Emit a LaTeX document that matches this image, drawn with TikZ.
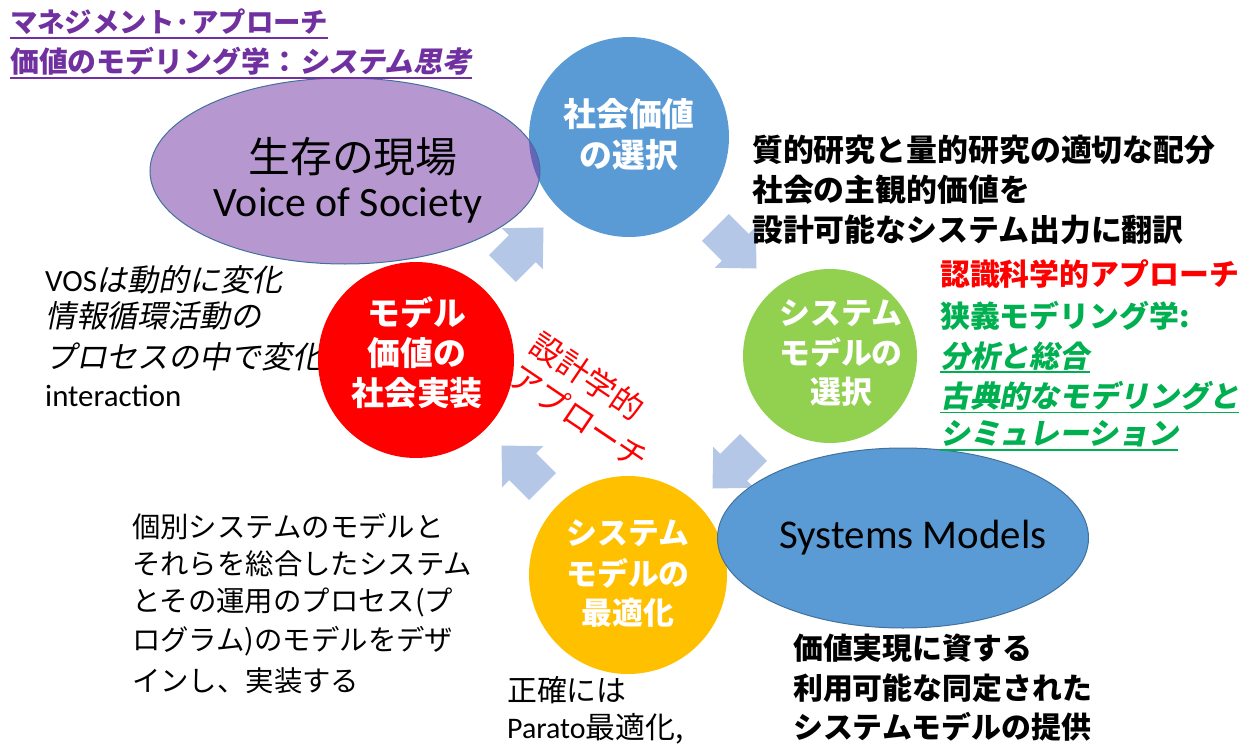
\documentclass[tikz,border=0pt]{standalone}
\usepackage{fontspec}
\usetikzlibrary{shapes.geometric}
\newfontfamily\jp{Noto Sans CJK JP}
\newfontfamily\jpit{Noto Sans CJK JP}[FakeSlant=0.2]
\newfontfamily\lat{Carlito}
\definecolor{cblue}{HTML}{5B9BD5}
\definecolor{cgreen}{HTML}{92D050}
\definecolor{cyellow}{HTML}{FFC000}
\definecolor{cred}{HTML}{FF0000}
\definecolor{carrow}{HTML}{B4C7E7}
\definecolor{cpurple}{HTML}{7030A0}
\definecolor{cgtext}{HTML}{00B050}
\definecolor{cedge}{HTML}{41719C}
\newcommand{\fsz}[1]{\fontsize{#1}{#1}\selectfont}
\newcommand{\blockarrow}[2]{\fill[carrow, shift={#1}, rotate=#2] (-29,-19) -- (-1,-19) -- (-1,-29) -- (29,0) -- (-1,29) -- (-1,19) -- (-29,19) -- cycle;}
\tikzset{
  disc/.style={circle, inner sep=0pt, minimum size=#1},
  lt/.style={inner sep=0pt, anchor=west},
  ct/.style={inner sep=0pt, anchor=center},
  wlab/.style={ct, text=white, font=\jp\bfseries\fsz{#1}},
  blk/.style={lt, font=\jp\bfseries\fsz{31}},
  brb/.style={lt, font=\jp\bfseries\fsz{30}},
  grn/.style={lt, text=cgtext, font=\jp\bfseries\fsz{30}},
  grni/.style={lt, text=cgtext, font=\jpit\bfseries\fsz{30}},
  vosl/.style={lt, font=\jpit\fsz{31}},
  bl/.style={lt, font=\jp\fsz{28.5}},
  ttl/.style={lt, text=cpurple, font=\jp\bfseries\fsz{#1}},
  gul/.style={draw=cgtext, line width=1.6bp},
  pul/.style={draw=cpurple, line width=1.6bp},
  oval/.style={ellipse, inner sep=0pt, draw=cedge, line width=1bp},
}
\begin{document}
\begin{tikzpicture}[x=1bp,y=-1bp]
\useasboundingbox (0,0) rectangle (1258,748);

% block arrows
\blockarrow{(523,248)}{45}
\blockarrow{(736,248)}{-45}
\blockarrow{(733,468)}{-135}
\blockarrow{(522,466)}{135}

% left text (partly hidden by red disc)
\node[vosl] (v1) at (45,280) {{\lat VOS}は動的に変化};
\node[vosl] (v2) at (45,316) {情報循環活動の};
\node[vosl] (v3) at (45,357) {プロセスの中で変化：};
\node[lt, font=\lat\fsz{31}] (v4) at (45,396) {interaction};

% discs
\node[disc=200bp, fill=cblue] (sv) at (629,137) {};
\node[disc=196bp, fill=cred] (im) at (416,360) {};
\node[disc=174bp, fill=cgreen] (sel) at (830,356) {};
\node[disc=198bp, fill=cyellow] (opt) at (628,575) {};

% ellipses
\node[oval, fill=cpurple, fill opacity=0.5, minimum width=390bp, minimum height=186bp] (vos) at (345,171) {};
\node[oval, fill=cblue, minimum width=371bp, minimum height=180bp] (sm) at (903,538) {};

% ellipse texts
\node[ct, font=\jp\fsz{42}] (vt1) at (353,157) {生存の現場};
\node[ct, font=\lat\fsz{42}] (vt2) at (348,205) {Voice of Society};
\node[ct, font=\lat\fsz{41}] (smt) at (913,538) {Systems Models};

% disc labels
\node[wlab=33] (s1) at (629,114) {社会価値};
\node[wlab=33] (s2) at (629,155) {の選択};
\node[wlab=33] (r1) at (417,313) {モデル};
\node[wlab=33] (r2) at (417,353) {価値の};
\node[wlab=33] (r3) at (417,393) {社会実装};
\node[wlab=31] (g1) at (841,313) {システム};
\node[wlab=31] (g2) at (841,352) {モデルの};
\node[wlab=31] (g3) at (841,392) {選択};
\node[wlab=31] (y1) at (628,533) {システム};
\node[wlab=31] (y2) at (628,573) {モデルの};
\node[wlab=31] (y3) at (628,613) {最適化};

% title
\node[ttl=27.5] (t1) at (10,22) {マネジメント·アプローチ};
\node[ttl=29] (t2) at (10,61) {価値のモデリング学：{\jpit\bfseries システム思考}};
\draw[pul] ([yshift=-5.5pt]t1.base west) -- ([yshift=-5.5pt]t1.base east);
\draw[pul] ([yshift=-6pt]t2.base west) -- ([yshift=-6pt]t2.base east);

% top right
\node[blk] (q1) at (752,150) {質的研究と量的研究の適切な配分};
\node[blk] (q2) at (752,190) {社会の主観的価値を};
\node[blk] (q3) at (752,230) {設計可能なシステム出力に翻訳};

% right block
\node[lt, text=cred, font=\jp\bfseries\fsz{30}] (n1) at (940,274) {認識科学的アプローチ};
\node[grn] (n2) at (940,316) {狭義モデリング学:};
\node[grni] (n3) at (940,356) {分析と総合};
\node[grni] (n4) at (940,396) {古典的なモデリングと};
\node[grni] (n5) at (940,434) {シミュレーション};
\draw[gul] ([yshift=-5pt]n3.base west) -- ([yshift=-5pt]n3.base east);
\draw[gul] ([yshift=-5pt]n4.base west) -- ([yshift=-5pt]n4.base east);
\draw[gul] ([yshift=-5pt]n5.base west) -- ([yshift=-5pt]n5.base east);

% rotated red label
\node[lt, rotate=-34, align=left, text=cred, font=\jp\fontsize{32}{39}\selectfont] (dz) at (524,356) {設計学的\\アプローチ};

% bottom left
\node[bl] (b1) at (132,527) {個別システムのモデルと};
\node[bl] (b2) at (132,564) {それらを総合したシステム};
\node[bl] (b3) at (132,602) {とその運用のプロセス(プ};
\node[bl] (b4) at (132,641) {ログラム)のモデルをデザ};
\node[bl] (b5) at (132,681) {インし、実装する};

% bottom middle
\node[lt, font=\jp\fsz{30}] (p1) at (507,690) {正確には};
\node[lt, font=\jp\fsz{30}] (p2) at (507,729) {{\lat Parato}最適化,};

% bottom right
\node[brb] (m1) at (793,648) {価値実現に資する};
\node[brb] (m2) at (793,688) {利用可能な同定された};
\node[brb] (m3) at (793,727) {システムモデルの提供};
\end{tikzpicture}
\end{document}
